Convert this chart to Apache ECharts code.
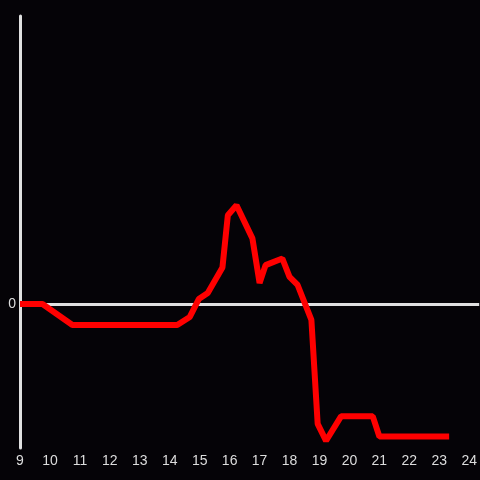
<!DOCTYPE html>
<html>
<head>
<meta charset="utf-8">
<script src="https://cdn.jsdelivr.net/npm/echarts@6/dist/echarts.min.js"></script>
<style>
  html, body { margin: 0; padding: 0; background: #050307; }
  #chart { width: 480px; height: 480px; }
</style>
</head>
<body>
<div id="chart"></div>
<script>
// hours of day
const hours = [9, 9.75, 10.75, 14.25, 14.67, 14.97, 15.27, 15.76, 15.94, 16.23, 16.76, 17.0, 17.2, 17.76, 18.0, 18.27, 18.73, 18.94, 19.22, 19.72, 20.78, 21.0, 23.33]
// values
const values = [0, 0, -7.3, -7.3, -4.5, 1.7, 3.8, 12.7, 30.8, 34.3, 22.8, 7.3, 13.5, 15.8, 9.4, 6.6, -5.5, -41.6, -47.5, -39, -39, -46, -46]
const yTicks = [0]

const chart = echarts.init(document.getElementById('chart'))

const option = {
  backgroundColor: '#050307',
  animation: false,
  grid: { left: 20, right: 0, top: 16, bottom: 32 },
  xAxis: {
    type: 'value',
    min: 9,
    max: 24.333,
    interval: 1,
    axisLine: { show: false },
    axisTick: { show: false },
    splitLine: { show: false },
    axisLabel: {
      color: '#dddddd',
      fontSize: 14,
      fontFamily: 'Liberation Sans',
      margin: 6,
      showMaxLabel: false,
      formatter: v => (Number.isInteger(v) ? String(v) : '')
    }
  },
  yAxis: {
    type: 'value',
    min: -50,
    max: 100,
    axisLine: { show: true, onZero: false, lineStyle: { color: '#e0e0e0', width: 3 } },
    axisTick: { show: false },
    splitLine: { show: false },
    axisLabel: {
      color: '#dddddd',
      fontSize: 14,
      fontFamily: 'Liberation Sans',
      margin: 4,
      customValues: yTicks
    }
  },
  series: [
    {
      // zero line, drawn under the data line
      type: 'line',
      data: [],
      z: 1,
      markLine: {
        silent: true,
        symbol: 'none',
        label: { show: false },
        lineStyle: { color: '#e0e0e0', width: 3, type: 'solid' },
        data: [{ yAxis: 0 }]
      }
    },
    {
      type: 'line',
      data: hours.map((h, i) => [h, values[i]]),
      symbol: 'none',
      lineStyle: { color: '#ff0000', width: 6 },
      z: 5
    }
  ]
}

chart.setOption(option)
</script>
</body>
</html>
